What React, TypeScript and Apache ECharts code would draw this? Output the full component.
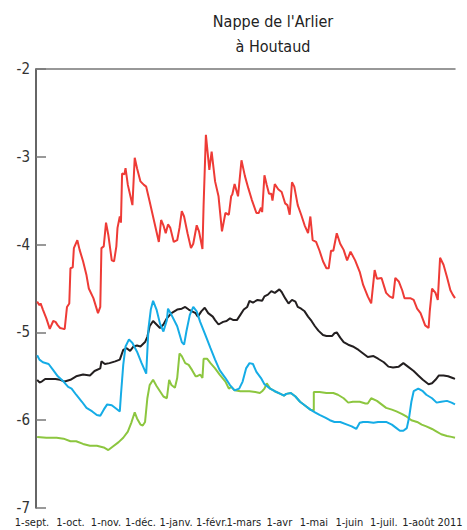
import React, { useEffect, useRef } from "react";
import * as echarts from "echarts";

// Days since 1 Sept 2010 for each series point, and groundwater level (m)
const redDays = [1,3,4,6,9,12,15,17,19,21,24,25,27,29,30,32,33,36,38,41,44,46,50,54,56,57,59,61,63,66,68,70,71,73,74,75,77,78,80,84,86,88,91,94,96,99,103,107,109,111,113,115,117,120,123,125,127,129,132,135,137,140,142,145,146,148,151,153,156,159,162,165,168,170,171,173,176,179,182,185,188,192,194,196,197,199,201,203,205,206,208,211,214,217,219,221,223,225,228,231,234,237,239,241,244,247,250,253,255,257,259,262,265,268,271,274,278,282,285,289,292,295,297,301,305,308,311,313,316,319,321,326,329,332,335,339,342,343,345,348,350,352,355,358,361,363,365];
const redValues = [-4.65,-4.69,-4.67,-4.74,-4.84,-4.96,-4.87,-4.88,-4.92,-4.95,-4.96,-4.96,-4.71,-4.67,-4.27,-4.26,-4.04,-3.95,-4.06,-4.19,-4.35,-4.5,-4.61,-4.78,-4.71,-4.04,-4.02,-3.75,-3.89,-4.18,-4.19,-4.02,-3.81,-3.68,-3.75,-3.19,-3.2,-3.13,-3.32,-3.55,-3.01,-3.13,-3.28,-3.32,-3.34,-3.51,-3.74,-3.97,-3.72,-3.78,-3.87,-3.77,-3.81,-3.97,-3.95,-3.81,-3.62,-3.68,-3.87,-4.04,-3.99,-3.78,-3.85,-4.05,-3.55,-2.75,-3.15,-2.94,-3.28,-3.45,-3.85,-3.64,-3.66,-3.45,-3.43,-3.31,-3.45,-3.04,-3.22,-3.36,-3.49,-3.64,-3.64,-3.58,-3.63,-3.21,-3.32,-3.42,-3.42,-3.5,-3.31,-3.37,-3.4,-3.53,-3.55,-3.66,-3.29,-3.34,-3.55,-3.66,-3.78,-3.87,-3.68,-3.95,-3.97,-4.07,-4.19,-4.27,-4.27,-4.07,-4.07,-3.87,-3.99,-4.06,-4.18,-4.08,-4.18,-4.31,-4.46,-4.59,-4.67,-4.29,-4.39,-4.38,-4.55,-4.59,-4.61,-4.38,-4.42,-4.52,-4.61,-4.61,-4.63,-4.73,-4.78,-4.92,-4.95,-4.76,-4.5,-4.55,-4.63,-4.15,-4.23,-4.37,-4.52,-4.57,-4.61];

const blackDays = [1,3,5,8,12,17,21,25,30,35,41,47,51,56,57,60,64,69,73,76,79,82,85,88,91,95,97,99,102,105,108,111,114,118,123,127,130,133,136,139,141,144,147,150,154,156,159,163,166,169,172,175,178,181,184,186,189,193,197,199,202,205,208,210,212,214,217,220,223,226,228,231,234,237,240,243,246,250,253,258,260,262,265,268,272,276,281,285,289,294,298,303,307,311,316,320,324,329,333,337,342,345,348,351,355,359,363,365];
const blackValues = [-5.54,-5.57,-5.56,-5.53,-5.53,-5.53,-5.54,-5.56,-5.54,-5.5,-5.48,-5.49,-5.44,-5.41,-5.33,-5.36,-5.35,-5.33,-5.31,-5.2,-5.18,-5.21,-5.16,-5.15,-5.16,-5.11,-5.05,-4.93,-4.87,-4.91,-4.95,-4.91,-4.84,-4.78,-4.74,-4.73,-4.71,-4.74,-4.76,-4.78,-4.82,-4.76,-4.72,-4.78,-4.82,-4.86,-4.91,-4.88,-4.87,-4.84,-4.86,-4.86,-4.8,-4.74,-4.71,-4.64,-4.66,-4.63,-4.64,-4.59,-4.57,-4.53,-4.55,-4.53,-4.51,-4.54,-4.61,-4.67,-4.63,-4.65,-4.71,-4.73,-4.76,-4.82,-4.87,-4.93,-4.98,-5.03,-5.04,-5.04,-5.01,-5.0,-5.06,-5.11,-5.14,-5.16,-5.2,-5.24,-5.28,-5.27,-5.3,-5.34,-5.39,-5.4,-5.39,-5.35,-5.39,-5.44,-5.49,-5.54,-5.59,-5.58,-5.54,-5.49,-5.49,-5.5,-5.52,-5.53];

const blueDays = [1,3,6,11,15,19,24,28,31,35,40,44,49,53,56,59,62,66,70,73,74,76,78,81,84,88,92,96,98,100,102,105,108,111,114,115,118,123,127,129,131,134,137,140,143,147,152,156,160,165,169,173,177,180,183,186,189,192,196,199,204,208,213,216,218,222,226,230,234,239,243,247,252,256,260,265,271,275,279,282,285,289,294,298,303,305,310,314,317,320,323,325,327,329,333,337,340,345,349,353,358,362,365];
const blueValues = [-5.26,-5.31,-5.34,-5.36,-5.43,-5.5,-5.56,-5.62,-5.64,-5.71,-5.79,-5.86,-5.9,-5.94,-5.95,-5.88,-5.82,-5.83,-5.87,-5.9,-5.71,-5.37,-5.16,-5.08,-5.12,-5.22,-5.35,-5.47,-4.95,-4.74,-4.64,-4.74,-4.9,-4.99,-4.86,-4.73,-4.8,-4.93,-5.11,-5.14,-4.99,-4.8,-4.71,-4.76,-4.88,-5.01,-5.18,-5.31,-5.43,-5.52,-5.6,-5.66,-5.64,-5.56,-5.41,-5.35,-5.36,-5.45,-5.52,-5.59,-5.64,-5.67,-5.7,-5.72,-5.7,-5.69,-5.73,-5.79,-5.83,-5.88,-5.91,-5.94,-5.97,-6.0,-6.02,-6.02,-6.05,-6.07,-6.1,-6.03,-6.02,-6.02,-6.03,-6.02,-6.02,-6.02,-6.05,-6.09,-6.12,-6.12,-6.09,-5.97,-5.79,-5.67,-5.64,-5.67,-5.71,-5.75,-5.8,-5.79,-5.78,-5.8,-5.82];

const greenDays = [1,9,18,24,30,35,41,47,53,59,63,67,72,76,80,83,86,88,91,93,95,97,99,102,105,108,111,114,116,118,121,123,125,127,130,133,136,139,140,143,145,146,149,152,156,160,165,168,170,173,178,182,186,191,195,197,199,201,204,208,213,216,218,222,226,230,234,239,242,242,243,247,253,259,263,268,272,276,282,287,289,292,297,301,305,310,314,319,323,327,332,336,340,345,349,353,358,362,365];
const greenValues = [-6.19,-6.2,-6.2,-6.21,-6.24,-6.24,-6.27,-6.29,-6.29,-6.31,-6.34,-6.3,-6.25,-6.2,-6.13,-6.03,-5.91,-5.98,-6.05,-6.06,-6.02,-5.75,-5.6,-5.54,-5.61,-5.67,-5.73,-5.75,-5.54,-5.6,-5.63,-5.52,-5.24,-5.27,-5.35,-5.37,-5.43,-5.5,-5.5,-5.48,-5.52,-5.3,-5.3,-5.35,-5.41,-5.48,-5.56,-5.64,-5.62,-5.66,-5.67,-5.67,-5.67,-5.68,-5.69,-5.67,-5.64,-5.58,-5.64,-5.67,-5.7,-5.72,-5.7,-5.69,-5.73,-5.79,-5.83,-5.88,-5.89,-5.68,-5.68,-5.68,-5.69,-5.69,-5.71,-5.75,-5.8,-5.79,-5.79,-5.81,-5.81,-5.75,-5.78,-5.82,-5.86,-5.88,-5.9,-5.93,-5.96,-6.0,-6.02,-6.05,-6.07,-6.1,-6.13,-6.16,-6.18,-6.19,-6.2];

const monthDays = [0, 30, 61, 91, 122, 153, 181, 212, 242, 273, 303, 334];
const monthLabels = ["1-sept.", "1-oct.", "1-nov.", "1-déc.", "1-janv.", "1-févr.", "1-mars", "1-avr", "1-mai", "1-juin", "1-juil.", "1-août 2011"];

const FONT = "'Liberation Sans Narrow', 'DejaVu Sans Condensed', 'Roboto', sans-serif";

const zip = (d: number[], v: number[]) => d.map((x, i) => [x, v[i]]);

export default function App() {
  const ref = useRef<HTMLDivElement>(null);
  useEffect(() => {
    if (!ref.current) return;
    const chart = echarts.init(ref.current, null, { renderer: "svg" });
    const line = (name: string, data: number[][], color: string) => ({
      name,
      type: "line",
      data,
      showSymbol: false,
      symbol: "none",
      lineStyle: { color, width: 2 },
      itemStyle: { color },
    });
    chart.setOption({
      animation: false,
      backgroundColor: "#ffffff",
      graphic: [
        {
          type: "text",
          x: 273,
          y: 9,
          style: {
            text: "Nappe de l'Arlier\nà Houtaud",
            fontFamily: FONT,
            fontSize: 16,
            lineHeight: 25,
            fill: "#222",
            align: "center",
            verticalAlign: "top",
          },
        },
      ],
      grid: { left: 36, right: 12, top: 69, bottom: 22 },
      xAxis: [
        {
          type: "value",
          min: 0,
          max: 365,
          position: "bottom",
          axisLine: { show: false },
          axisTick: { show: false },
          splitLine: { show: false },
          axisLabel: {
            customValues: monthDays,
            margin: 9,
            fontFamily: FONT,
            fontSize: 11,
            color: "#222",
            formatter: (val: number) => {
              const i = monthDays.indexOf(val);
              const t = i >= 0 ? monthLabels[i] : "";
              if (i === 0) return "{s|" + t + "}";
              if (i === monthDays.length - 1) return "{e|" + t + "}";
              return t;
            },
            rich: {
              s: { fontFamily: FONT, fontSize: 11, color: "#222", padding: [0, 8, 0, 0] },
              e: { fontFamily: FONT, fontSize: 11, color: "#222", padding: [0, 0, 0, 26] },
            },
          },
        },
        {
          type: "value",
          min: 0,
          max: 365,
          position: "top",
          axisLine: { show: true, lineStyle: { color: "#777", width: 1.5 } },
          axisTick: { show: false },
          axisLabel: { show: false },
          splitLine: { show: false },
        },
      ],
      yAxis: {
        type: "value",
        min: -7,
        max: -2,
        interval: 1,
        axisLine: { show: true, lineStyle: { color: "#333", width: 1.5 } },
        axisTick: { show: true, inside: true, length: 10, lineStyle: { color: "#777", width: 1.5 } },
        splitLine: { show: false },
        axisLabel: { margin: 6, fontFamily: FONT, fontSize: 15, color: "#333" },
      },
      series: [
        line("rouge", zip(redDays, redValues), "#ee3b36"),
        line("vert", zip(greenDays, greenValues), "#8cc63f"),
        line("noir", zip(blackDays, blackValues), "#231f20"),
        line("bleu", zip(blueDays, blueValues), "#15ace6"),
      ],
    });
    return () => chart.dispose();
  }, []);
  return (
    <div
      ref={ref}
      style={{ position: "absolute", left: 0, top: 0, width: 467, height: 530 }}
    />
  );
}
